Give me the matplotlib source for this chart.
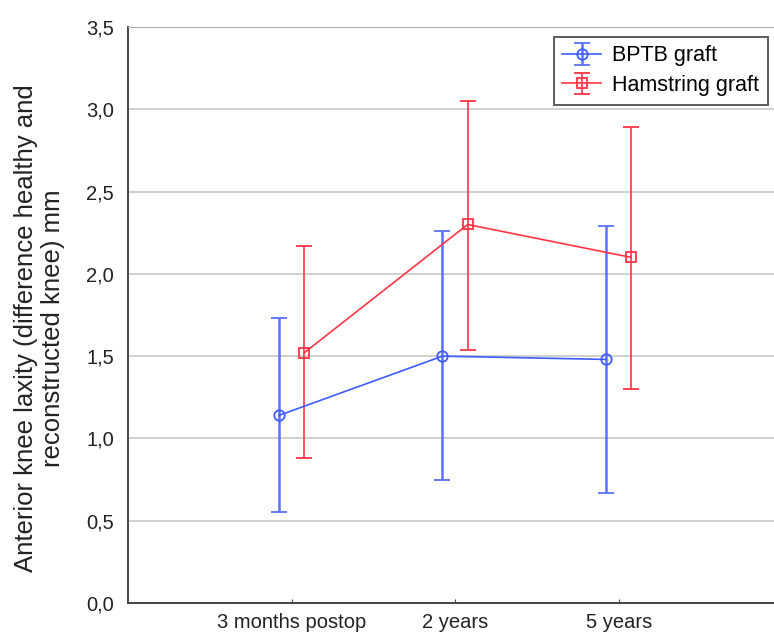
import numpy as np
import matplotlib.pyplot as plt
from matplotlib.ticker import FuncFormatter

plt.rcParams['font.family'] = ['Liberation Sans', 'DejaVu Sans']

# data
categories = ['3 months postop', '2 years', '5 years']
bptb_mean = [1.14, 1.50, 1.48]
bptb_low = [0.55, 0.75, 0.67]
bptb_high = [1.73, 2.26, 2.29]
ham_mean = [1.52, 2.30, 2.10]
ham_low = [0.88, 1.54, 1.30]
ham_high = [2.17, 3.05, 2.89]

x = np.arange(1, len(categories) + 1)
blue = '#3f5cff'
red = '#ff3545'

fig = plt.figure(figsize=(7.74, 6.35), dpi=100)
ax = fig.add_axes([128 / 774, 32 / 635, 1 - 128 / 774, 576 / 635])

bm = np.array(bptb_mean)
hm = np.array(ham_mean)
ax.errorbar(x - 0.077, bm, yerr=[bm - np.array(bptb_low), np.array(bptb_high) - bm],
            color=blue, marker='o', ms=7.5, mfc='none', mec=blue, mew=1.3, lw=1.2,
            elinewidth=1.8, ecolor='#5a72ff', capsize=6, capthick=1.6,
            label='BPTB graft', zorder=3)
ax.errorbar(x + 0.077, hm, yerr=[hm - np.array(ham_low), np.array(ham_high) - hm],
            color=red, marker='s', ms=6.5, mfc='none', mec=red, mew=1.3, lw=1.2,
            elinewidth=1.2, capsize=6, capthick=1.3,
            label='Hamstring graft', zorder=3)

ax.set_xlim(0, 3.95)
ax.set_ylim(0, 3.5)
ax.set_xticks(x)
ax.set_xticklabels(categories, fontsize=14.5)
ax.set_yticks(np.arange(0, 3.51, 0.5))
ax.yaxis.set_major_formatter(FuncFormatter(lambda v, p: f'{v:.1f}'.replace('.', ',')))
ax.tick_params(axis='y', labelsize=14.5, length=0, pad=10, labelcolor='#222222')
ax.tick_params(axis='x', direction='in', length=3, pad=7, color='#444444', labelcolor='#222222')
ax.grid(axis='y', color='#d0d0d0', lw=1.4)
ax.set_axisbelow(True)

for s in ['left', 'bottom']:
    ax.spines[s].set_color('#444444')
    ax.spines[s].set_linewidth(1.4)
ax.spines['top'].set_color('#aaaaaa')
ax.spines['right'].set_visible(False)

ax.set_ylabel('Anterior knee laxity (difference healthy and\nreconstructed knee) mm',
              fontsize=18.5, color='#222222', linespacing=1.15)
ax.yaxis.set_label_coords(-0.097, 0.477)

leg = ax.legend(loc='upper right', bbox_to_anchor=(0.99, 0.983), fontsize=15.5,
                frameon=True, fancybox=False, edgecolor='#333333',
                handlelength=1.8, borderpad=0.4, labelspacing=0.4,
                handletextpad=0.5, borderaxespad=0)
leg.get_frame().set_linewidth(1.4)

fig.savefig('out.png', dpi=100)
